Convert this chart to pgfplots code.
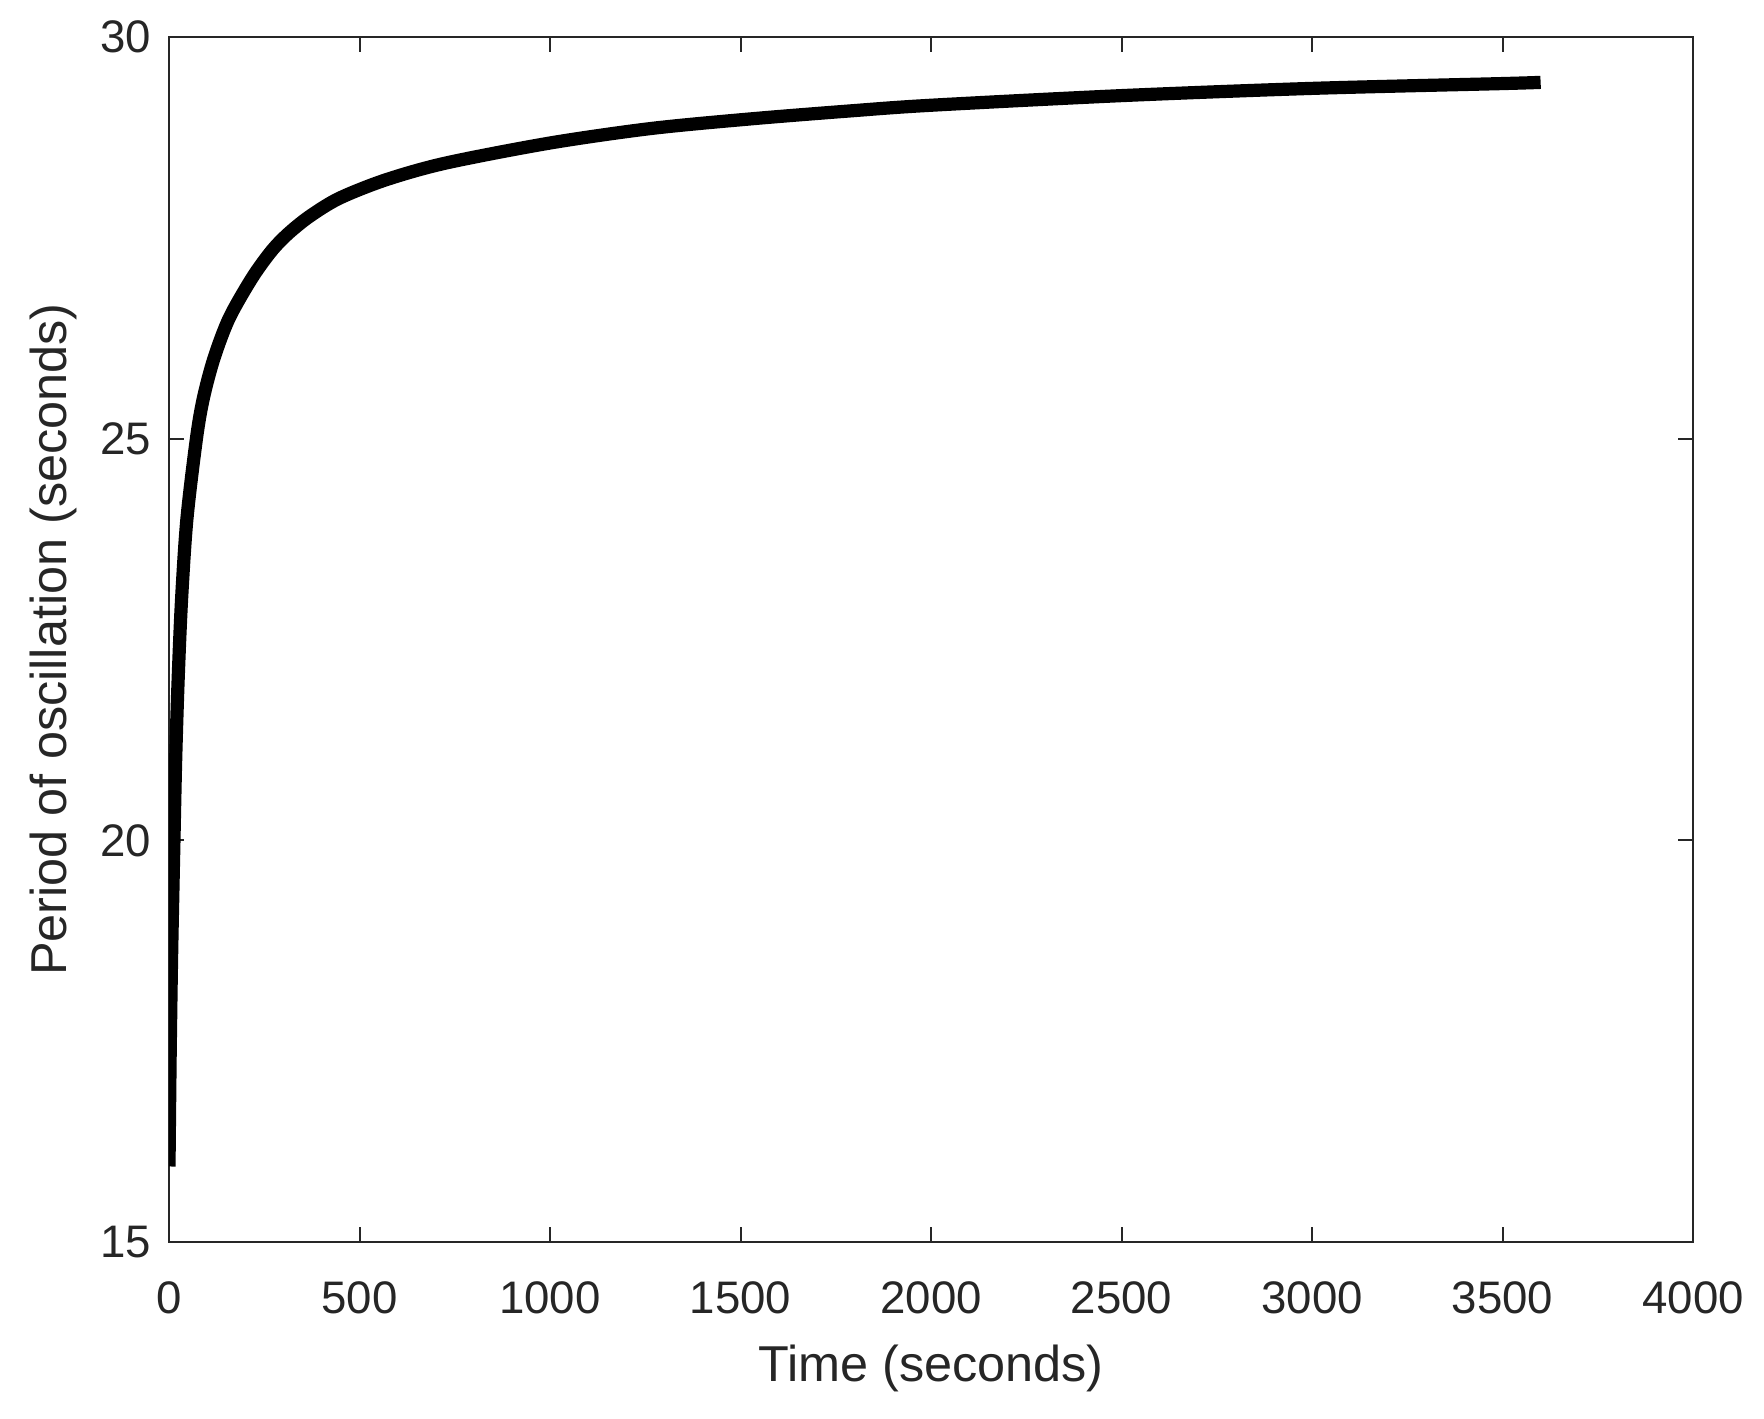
\documentclass[border=0pt]{standalone}
\usepackage{fontspec}
\setmainfont{Liberation Sans}
\usepackage{pgfplots}
\pgfplotsset{compat=1.18}
\definecolor{axgray}{RGB}{38,38,38}
\begin{document}
\begin{tikzpicture}
\useasboundingbox (-42.25pt,-44.25pt) rectangle (398.75pt,310.5pt);
\begin{axis}[
  at={(0,0)}, anchor=south west,
  scale only axis, width=381pt, height=301.25pt,
  xmin=0, xmax=4000, ymin=15, ymax=30,
  xtick={0,500,...,4000}, ytick={15,20,25,30},
  tick align=inside, major tick length=3.75pt,
  tick style={axgray, line width=0.5pt},
  axis line style={axgray, line width=0.7pt},
  every tick label/.append style={text=axgray, font=\fontsize{11.4}{13}\selectfont},
  /pgf/number format/assume math mode=true,
  /pgf/number format/1000 sep={},
  scaled ticks=false,
  xticklabel style={yshift=-6.5pt},
  yticklabel style={xshift=-1pt},
  xlabel={Time (seconds)}, ylabel={Period of oscillation (seconds)},
  label style={text=axgray, font=\fontsize{12.6}{14}\selectfont},
  xlabel style={at={(axis description cs:0.5,0)}, anchor=center, yshift=-31.5pt},
  ylabel style={at={(axis description cs:0,0.5)}, anchor=center, yshift=29pt},
]
\addplot[black, line width=3.3pt, line join=round, line cap=butt, smooth, tension=0.5] coordinates {
(0,15.94) (3,17.3) (7,18.6) (13,20.0) (17.5,21.0) (24,22.0) (33,23.0)
(47,24.0) (72,25.0) (90,25.5) (118,26.0) (158,26.5) (218,27.0) (268,27.33)
(310,27.54) (367,27.76) (446,27.99) (568,28.22) (726,28.43) (1000,28.68)
(1264,28.86) (1526,28.98) (1789,29.08) (2000,29.15) (2500,29.27) (3000,29.36)
(3500,29.42) (3600,29.435)
};
\end{axis}
\end{tikzpicture}
\end{document}
